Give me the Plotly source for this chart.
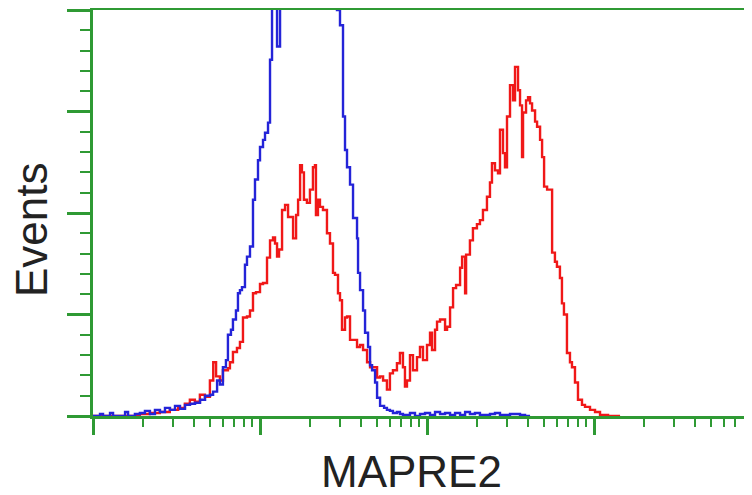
import plotly.graph_objects as go

# Red histogram (MAPRE2 stained): log10 intensity, events
red_log = [0.00, 0.16, 0.28, 0.34, 0.40, 0.46, 0.51, 0.55, 0.58, 0.61, 0.64, 0.67, 0.70, 0.72, 0.737,
           0.76, 0.778, 0.808, 0.82, 0.838, 0.862, 0.88, 0.898, 0.922, 0.94, 0.958, 0.976, 1.00, 1.018,
           1.042, 1.06, 1.078, 1.09, 1.102, 1.114, 1.132, 1.15, 1.168, 1.18, 1.198, 1.216, 1.228, 1.24,
           1.251, 1.263, 1.281, 1.299, 1.317, 1.329, 1.335, 1.347, 1.359, 1.377, 1.401, 1.419, 1.437,
           1.449, 1.467, 1.479, 1.491, 1.509, 1.521, 1.539, 1.557, 1.581, 1.599, 1.617, 1.641, 1.659,
           1.677, 1.701, 1.719, 1.737, 1.76, 1.778, 1.796, 1.82, 1.838, 1.856, 1.868, 1.88, 1.898, 1.916,
           1.94, 1.958, 1.976, 2.00, 2.018, 2.03, 2.048, 2.06, 2.078, 2.096, 2.108, 2.12, 2.138, 2.156,
           2.174, 2.198, 2.21, 2.228, 2.234, 2.257, 2.275, 2.299, 2.317, 2.335, 2.359, 2.377, 2.389,
           2.407, 2.425, 2.437, 2.455, 2.467, 2.479, 2.497, 2.515, 2.527, 2.545, 2.557, 2.569, 2.575,
           2.593, 2.605, 2.617, 2.629, 2.647, 2.659, 2.677, 2.689, 2.701, 2.719, 2.737, 2.749, 2.766,
           2.778, 2.796, 2.808, 2.82, 2.838, 2.856, 2.868, 2.886, 2.904, 2.928, 2.946, 2.976, 3.006,
           3.036, 3.084, 3.156]
red_events = [0, 0, 2, 3, 4, 6, 8, 12, 16, 14, 21, 19, 35, 53, 39,
              35, 45, 47, 53, 63, 67, 73, 97, 98, 104, 121, 122, 130, 131,
              156, 173, 176, 170, 157, 164, 203, 208, 196, 196, 175, 198, 213, 247,
              240, 213, 210, 223, 245, 247, 198, 213, 206, 203, 180, 170, 141,
              139, 121, 114, 85, 97, 98, 75, 75, 68, 70, 65, 53, 48,
              48, 38, 39, 35, 26, 42, 45, 52, 62, 48, 29, 35, 60, 45,
              58, 68, 55, 70, 82, 65, 85, 93, 95, 95, 85, 88, 107, 126,
              129, 146, 157, 121, 159, 173, 185, 189, 193, 203, 216, 230, 249,
              242, 239, 282, 259, 245, 295, 326, 311, 344, 321, 306, 255, 299,
              311, 314, 308, 301, 290, 285, 272, 255, 226, 223, 223, 161, 152,
              147, 136, 111, 100, 62, 53, 48, 33, 16, 11, 9, 6, 4,
              1, 0, 0]

# Blue histogram (isotype control): log10 intensity, events
blue_log = [0.00, 0.042, 0.06, 0.102, 0.12, 0.162, 0.192, 0.21, 0.251, 0.281, 0.311, 0.341, 0.371,
            0.401, 0.431, 0.461, 0.491, 0.521, 0.551, 0.581, 0.611, 0.641, 0.671, 0.701, 0.719,
            0.743, 0.76, 0.778, 0.796, 0.808, 0.826, 0.838, 0.856, 0.868, 0.88, 0.892, 0.91, 0.922,
            0.94, 0.958, 0.97, 0.988, 1.00, 1.018, 1.03, 1.048, 1.06, 1.072, 1.09, 1.102, 1.12,
            1.15, 1.18, 1.24, 1.299, 1.359, 1.419, 1.443, 1.461, 1.479, 1.497, 1.509, 1.521, 1.539,
            1.557, 1.581, 1.587, 1.599, 1.617, 1.629, 1.647, 1.659, 1.671, 1.689, 1.701, 1.719,
            1.743, 1.76, 1.778, 1.796, 1.82, 1.838, 1.856, 1.898, 1.928, 1.958, 1.988, 2.018, 2.048,
            2.078, 2.108, 2.138, 2.168, 2.198, 2.228, 2.257, 2.287, 2.317, 2.377, 2.407, 2.437,
            2.497, 2.557, 2.587, 2.617]
blue_events = [0, 2, 0, 3, 0, 0, 4, 0, 2, 3, 5, 2, 6,
               4, 8, 6, 10, 7, 11, 12, 13, 16, 20, 21, 24,
               35, 31, 48, 55, 80, 85, 95, 104, 121, 124, 127, 149, 157,
               167, 213, 233, 252, 265, 272, 279, 289, 351, 430, 460, 364, 470,
               520, 560, 600, 620, 610, 560, 480, 400, 385, 295, 262, 245, 228,
               195, 175, 141, 124, 104, 82, 68, 50, 45, 33, 18, 10,
               8, 6, 5, 3, 4, 2, 1, 3, 0, 2, 3, 1, 4,
               2, 3, 1, 3, 1, 4, 2, 3, 1, 2, 3, 1,
               2, 1, 0, 0]

x_title = "MAPRE2"
y_title = "Events"

GREEN = "#2f9a34"

fig = go.Figure()
fig.add_trace(go.Scatter(x=[10 ** v for v in red_log], y=red_events, mode="lines",
                         line=dict(color="#f01818", width=2.4, shape="hv"), showlegend=False))
fig.add_trace(go.Scatter(x=[10 ** v for v in blue_log], y=blue_events, mode="lines",
                         line=dict(color="#2424d8", width=2.4, shape="hv"), showlegend=False))

fig.update_layout(
    width=744, height=487,
    margin=dict(l=85, r=0, t=2, b=79),
    paper_bgcolor="white", plot_bgcolor="white",
    xaxis=dict(type="log", range=[0, 3.946], showgrid=False, zeroline=False,
               showline=True, linecolor=GREEN, linewidth=3, mirror=True,
               ticks="outside", ticklen=16, tickwidth=3, tickcolor=GREEN,
               dtick=1, showticklabels=False,
               minor=dict(ticks="outside", ticklen=8, tickwidth=2, tickcolor=GREEN,
                          dtick="D1", showgrid=False)),
    yaxis=dict(range=[0, 400], showgrid=False, zeroline=False,
               showline=True, linecolor=GREEN, linewidth=3,
               ticks="outside", ticklen=23, tickwidth=3, tickcolor=GREEN,
               dtick=100, showticklabels=False,
               minor=dict(ticks="outside", ticklen=10, tickwidth=2, tickcolor=GREEN,
                          dtick=20, showgrid=False)),
    annotations=[
        dict(text=x_title, xref="paper", yref="paper", x=0.4826, y=-0.1355,
             xanchor="center", yanchor="middle", showarrow=False,
             font=dict(family="Liberation Sans, Arial", size=44, color="#222222")),
        dict(text=y_title, xref="paper", yref="paper", x=-0.094, y=0.458,
             xanchor="center", yanchor="middle", showarrow=False, textangle=-90,
             font=dict(family="Liberation Sans, Arial", size=44, color="#222222")),
    ],
)

fig.write_html("out.html")
